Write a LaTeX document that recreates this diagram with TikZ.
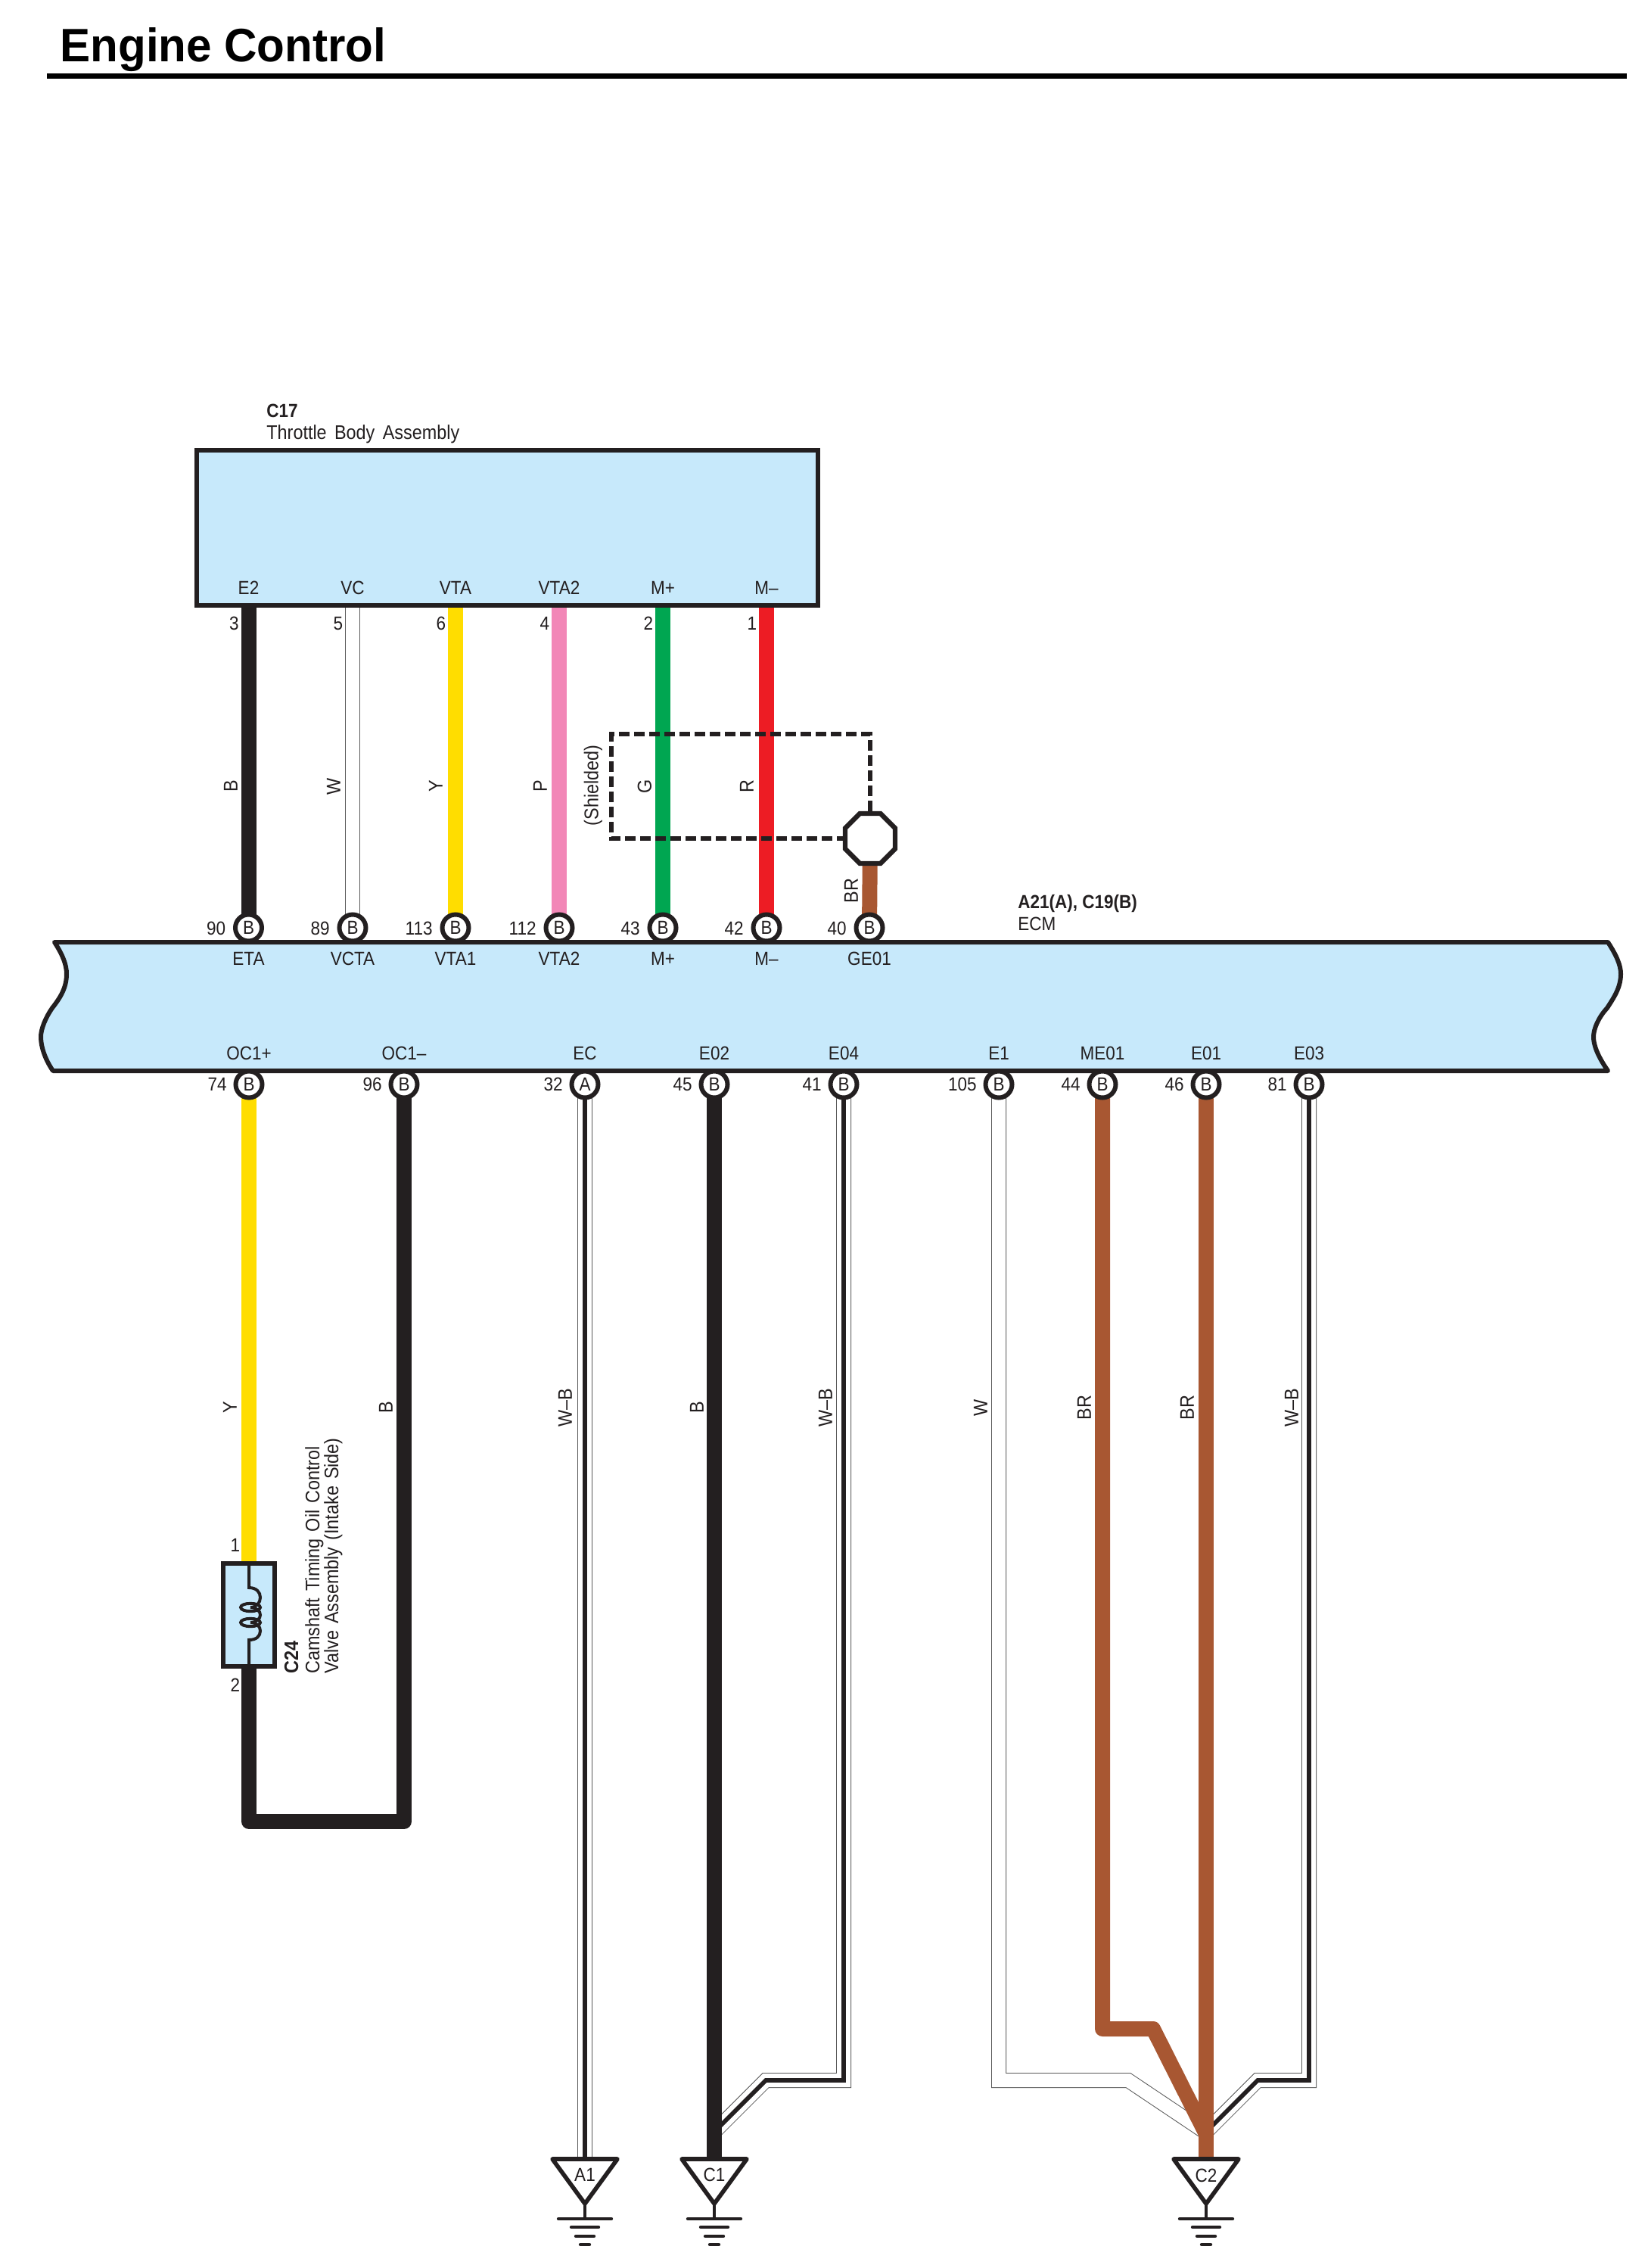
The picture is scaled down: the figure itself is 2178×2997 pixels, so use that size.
\documentclass[tikz,border=0pt]{standalone}
\usepackage{fontspec}
\setmainfont{Liberation Sans}[FakeStretch=0.9]
\newfontfamily\titlefont{Liberation Sans}[FakeStretch=0.97]
\usetikzlibrary{shapes.geometric}
\pgfdeclarelayer{wires}
\pgfsetlayers{wires,main}
\definecolor{ink}{HTML}{231F20}
\definecolor{ecublue}{HTML}{C7E9FB}
\definecolor{wy}{HTML}{FFDD00}
\definecolor{wp}{HTML}{F287B7}
\definecolor{wg}{HTML}{00A651}
\definecolor{wr}{HTML}{ED1C24}
\definecolor{wbr}{HTML}{A85732}
\newcommand{\fs}{\fontsize{12.5}{15}\selectfont}
\newcommand{\fr}{\fontsize{13}{15}\selectfont}
\tikzset{
  x=0.5pt,y=-0.5pt,
  lbl/.style={anchor=base,inner sep=0pt,text=ink,font=\fs},
  lblw/.style={anchor=base west,inner sep=0pt,text=ink,font=\fs},
  num/.style={anchor=base east,inner sep=0pt,text=ink,font=\fs},
  rlab/.style={rotate=90,anchor=center,inner sep=0pt,text=ink,font=\fr},
  rtext/.style={rotate=90,anchor=base west,inner sep=0pt,text=ink,font=\fr},
  pinnode/.style={circle,draw=ink,fill=white,line width=3pt,minimum size=17.5pt,inner sep=0pt,text=ink,font=\fs},
  unit/.style={draw=ink,fill=ecublue,line width=3pt,inner sep=0pt,outer sep=0pt},
  thick wire/.style={line width=10pt,line join=round},
  rails/.style={draw=black!65,line width=0.5pt,double=white,double distance=9pt,line join=miter},
  core/.style={draw=ink,line width=2.8pt,line join=miter},
  shield/.style={draw=ink,line width=2.6pt,dash pattern=on 7pt off 3pt},
  groundtri/.style={draw=ink,fill=white,line width=2.8pt,line join=round},
  groundbar/.style={draw=ink,line width=2.2pt,line cap=round},
}
\newcommand{\ground}[4]{% name, x, label, baseline
  \path[groundtri] (#2-43,2853) -- (#2+43,2853) -- (#2,2912) -- cycle;
  \node[lbl] (#1) at (#2,#4) {#3};
  \coordinate (#1top) at (#2,2853);
  \draw[groundbar,line cap=butt] (#2,2912) -- (#2,2932);
  \draw[groundbar] (#2-35,2932) -- (#2+35,2932);
  \draw[groundbar] (#2-18,2943) -- (#2+18,2943);
  \draw[groundbar] (#2-12,2955) -- (#2+12,2955);
  \draw[groundbar] (#2-6,2966) -- (#2+6,2966);
}
\begin{document}
\begin{tikzpicture}
\useasboundingbox (0,0) rectangle (2178,2997);
\begin{pgfonlayer}{wires}
  \fill[white] (0,0) rectangle (2178,2997);
\end{pgfonlayer}

% title
\node[anchor=base west,inner sep=0pt,font=\titlefont\bfseries\fontsize{31}{36}\selectfont] (title) at (79,82) {Engine Control};
\coordinate (ruleL) at (62,100.5);
\coordinate (ruleR) at (2150,100.5);
\draw[line width=3.5pt,black] (ruleL) -- (ruleR);

% throttle body
\node[unit,anchor=north west,minimum width=410.5pt,minimum height=102.5pt] (c17) at (260,595) {};
\node[lblw,font=\fs\bfseries] (c17id) at (352,551) {C17};
\node[lblw,font=\fr] (c17name) at (352,580.5) {\spaceskip=5.2pt Throttle Body Assembly};

% ECM
\path[draw=ink,fill=ecublue,line width=3pt,line join=round]
  (72,1245) -- (2125,1245)
  .. controls (2136,1262) and (2142,1275) .. (2142,1287)
  .. controls (2142,1305) and (2133,1318) .. (2124,1332)
  .. controls (2112,1345) and (2106,1360) .. (2106,1370)
  .. controls (2106,1385) and (2116,1402) .. (2125,1415)
  -- (70,1415)
  .. controls (61,1402) and (54,1385) .. (54,1370)
  .. controls (54,1360) and (60,1345) .. (69,1332)
  .. controls (80,1318) and (88,1305) .. (88,1287)
  .. controls (88,1275) and (83,1262) .. (72,1245) -- cycle;
\node[lblw,font=\fs\bfseries] (ecmid) at (1345,1200) {A21(A), C19(B)};
\node[lblw] (ecmname) at (1345,1229) {ECM};

% upper pins: number / x / ECM terminal / C17 terminal / C17 pin
\foreach \n/\x/\t/\o/\cp in {90/328.5/ETA/E2/3, 89/466/VCTA/VC/5, 113/602/VTA1/VTA/6, 112/739/VTA2/VTA2/4, 43/876/M+/M+/2, 42/1013/M–/M–/1}{
  \node[pinnode] (p\n) at (\x,1226) {B};
  \node[num] (n\n) at (\x-30,1235) {\n};
  \node[lbl] (t\n) at (\x,1275.5) {\t};
  \node[lbl] (o\n) at (\x,785) {\o};
  \node[num] (c\n) at (\x-12.5,832.5) {\cp};
}
\node[pinnode] (p40) at (1149,1226) {B};
\node[num] (n40) at (1119,1235) {40};
\node[lbl] (t40) at (1149,1275.5) {GE01};

% lower pins
\foreach \n/\x/\t/\l in {74/329/OC1+/B, 96/534/OC1–/B, 32/773/EC/A, 45/944/E02/B, 41/1115/E04/B, 105/1320/E1/B, 44/1457/ME01/B, 46/1594/E01/B, 81/1730/E03/B}{
  \node[pinnode] (p\n) at (\x,1433) {\l};
  \node[num] (n\n) at (\x-29,1441) {\n};
  \node[lbl] (t\n) at (\x,1400.5) {\t};
}

% wire colour letters, upper
\foreach \i/\x/\c in {a/305/B, b/441/W, c/576/Y, d/714/P, e/852/G, f/987/R}{
  \node[rlab] (u\i) at (\x,1039) {\c};
}
\node[rlab] (shtext) at (784,1038) {(Shielded)};
\node[rlab] (ubr) at (1125,1177) {BR};

% wire colour letters, lower
\foreach \i/\x/\c in {a/304/Y, b/510/B, c/747/W–B, d/921/B, e/1091/W–B, f/1296/W, g/1433/BR, h/1569/BR, i/1707/W–B}{
  \node[rlab] (l\i) at (\x,1860) {\c};
}

% camshaft valve
\node[unit,anchor=north west,minimum width=34pt,minimum height=68pt] (c24) at (295,2066) {};
\node[lbl] (c24a) at (311,2050) {1};
\node[lbl] (c24b) at (311,2235) {2};
\draw[draw=ink,line width=2pt]
  (329,2066) -- (329,2098)
  .. controls (339,2098) and (344,2104) .. (344,2111)
  .. controls (344,2118) and (339,2124) .. (331,2124)
  .. controls (339,2124) and (344,2129) .. (344,2134)
  .. controls (344,2139) and (339,2144) .. (331,2144)
  .. controls (339,2144) and (344,2149) .. (344,2155)
  .. controls (344,2162) and (339,2167) .. (329,2167)
  -- (329,2202);
\draw[draw=ink,line width=2pt] (331,2124) ellipse (6.5pt and 2.6pt);
\draw[draw=ink,line width=2pt] (331,2144) ellipse (6.5pt and 2.6pt);
\node[rtext,font=\fr\bfseries] (c24id) at (394,2212) {C24};
\node[rtext] (c24n1) at (422,2212) {\spaceskip=4.5pt Camshaft Timing Oil Control};
\node[rtext] (c24n2) at (447,2212) {\spaceskip=4.5pt Valve Assembly (Intake Side)};

% shield
\node[regular polygon,regular polygon sides=8,draw=ink,fill=white,line width=3.2pt,minimum size=35.7pt,inner sep=0pt] (oct) at (1150,1108) {};
\coordinate (shTR) at (1150,970);
\coordinate (shTL) at (808,970);
\coordinate (shBL) at (808,1108);
\draw[shield] (oct.north) -- (shTR) -- (shTL) -- (shBL) -- (oct.west);

% ground points
\ground{a1}{773}{A1}{2882}
\ground{c1}{944}{C1}{2882}
\ground{c2}{1594}{C2}{2883}

% wires
\begin{pgfonlayer}{wires}
  \draw[thick wire,ink] (p90.center) -- (p90.center |- c17.south);
  \draw[rails] (p89.center) -- (p89.center |- c17.south);
  \draw[thick wire,wy] (p113.center) -- (p113.center |- c17.south);
  \draw[thick wire,wp] (p112.center) -- (p112.center |- c17.south);
  \draw[thick wire,wg] (p43.center) -- (p43.center |- c17.south);
  \draw[thick wire,wr] (p42.center) -- (p42.center |- c17.south);
  \draw[thick wire,wbr] (p40.center) -- (oct.center);
  % lower left
  \draw[thick wire,wy] (p74.center) -- (p74.center |- c24.north);
  \draw[thick wire,ink] (p96.center) -- (534,2407) -- (329,2407) -- (329,2202);
  % W-B to A1
  \draw[rails] (p32.center) -- (a1top);
  \draw[core] (p32.center) -- (a1top);
  % E04 into C1
  \draw[rails] (p41.center) -- (1115,2749) -- (1012,2749) -- (944,2817);
  \draw[core] (p41.center) -- (1115,2749) -- (1012,2749) -- (944,2817);
  \draw[thick wire,ink] (p45.center) -- (c1top);
  % C2 group
  \draw[rails] (p105.center) -- (1320,2749) -- (1491,2749) -- (1594,2818);
  \draw[rails] (p81.center) -- (1730,2749) -- (1662,2749) -- (1594,2817);
  \draw[core] (p81.center) -- (1730,2749) -- (1662,2749) -- (1594,2817);
  \draw[thick wire,wbr] (p44.center) -- (1457,2681) -- (1524,2681) -- (1594,2820);
  \draw[thick wire,wbr] (p46.center) -- (c2top);
\end{pgfonlayer}
\end{tikzpicture}
\end{document}
